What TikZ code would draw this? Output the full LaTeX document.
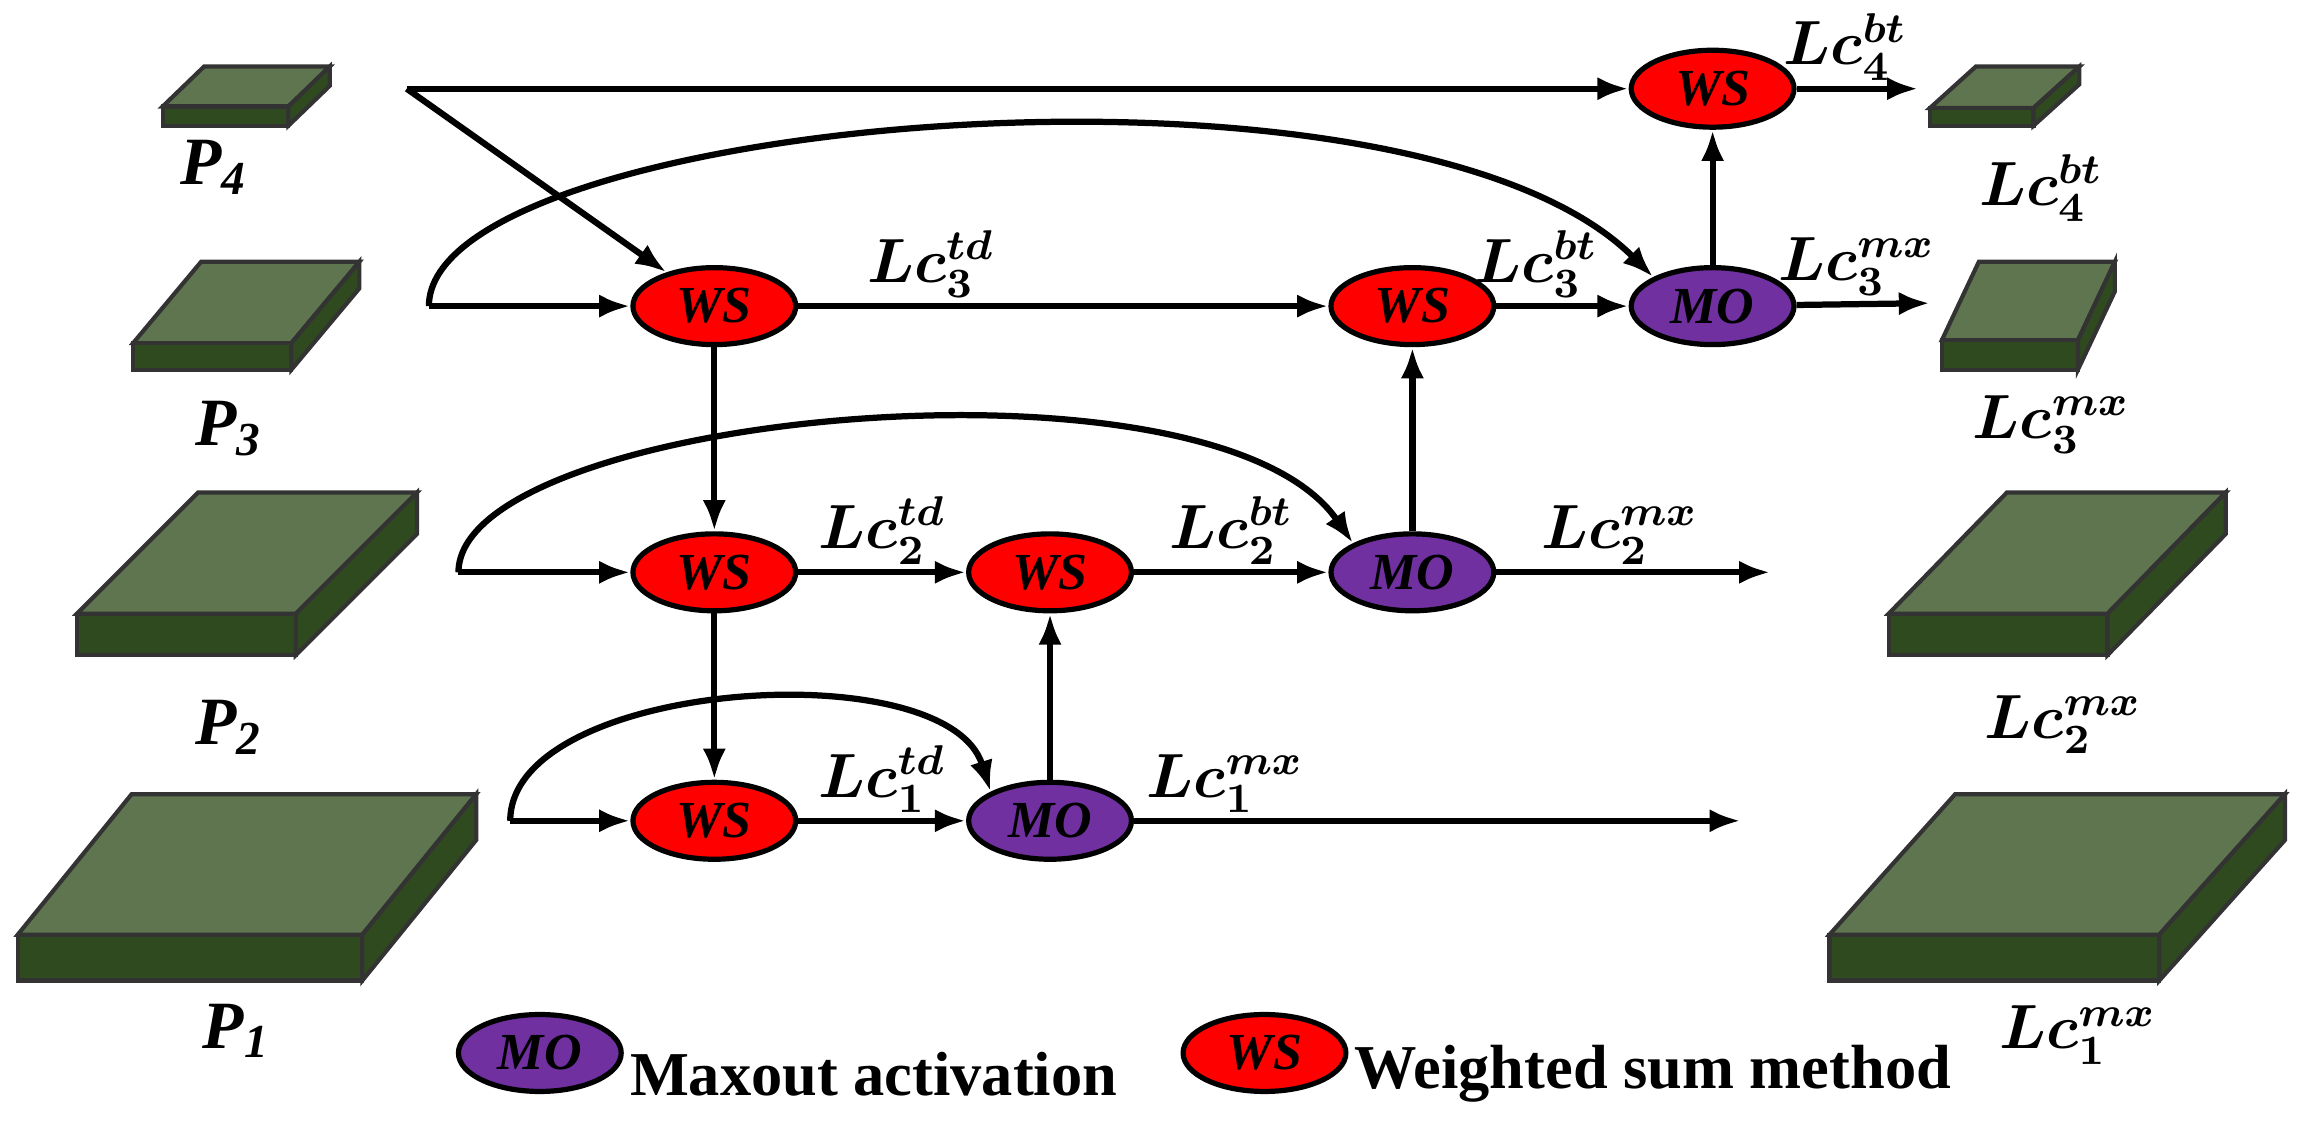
\documentclass[tikz,border=0pt]{standalone}
\usepackage{fontspec}
\setmainfont{Liberation Serif}
\usepackage{bm}
\usetikzlibrary{arrows.meta,shapes.geometric}
\definecolor{slabtop}{HTML}{5E7550}
\definecolor{slabside}{HTML}{2F4A1E}
\definecolor{wsred}{HTML}{FF0000}
\definecolor{mopurple}{HTML}{7030A0}
\newcommand\myslab[6]{%
 \fill[slabtop,draw=black!80,line width=0.8pt] (#1,#3)--(#2,#3)--(#2+#5,#3-#6)--(#1+#5,#3-#6)--cycle;
 \fill[slabside,draw=black!80,line width=0.8pt] (#1,#3) rectangle (#2,#4);
 \fill[slabside,draw=black!80,line width=0.8pt] (#2,#3)--(#2+#5,#3-#6)--(#2+#5,#4-#6)--(#2,#4)--cycle;}
\begin{document}
\begin{tikzpicture}[x=0.01cm,y=-0.01cm,
 ell/.style={ellipse,draw=black,line width=1pt,minimum width=1.1cm,minimum height=0.52cm,inner sep=0pt,font=\fontsize{10}{11}\selectfont\bfseries\itshape},
 ws/.style={ell,fill=wsred},
 mo/.style={ell,fill=mopurple},
 arr/.style={-{Latex[length=6pt,width=4.5pt]},line width=1.2pt},
 lab/.style={font=\fontsize{12}{13}\selectfont,inner sep=1pt},
 plab/.style={font=\fontsize{13}{14}\selectfont\bfseries\itshape}]
\useasboundingbox (0,0) rectangle (1568,765);
% slabs
\myslab{110}{195}{72}{85}{28}{27}
\myslab{90}{197}{232}{250}{46}{55}
\myslab{52}{200}{415}{443}{82}{82}
\myslab{12}{245}{632}{663}{77}{95}
\myslab{1305}{1375}{73}{85}{31}{28}
\myslab{1313}{1405}{230}{250}{25}{53}
\myslab{1277}{1425}{415}{443}{80}{82}
\myslab{1237}{1460}{632}{663}{85}{95}
\node[plab] (p4) at (145,113) {P\textsubscript{4}};
\node[plab] (p3) at (155,290) {P\textsubscript{3}};
\node[plab] (p2) at (155,492) {P\textsubscript{2}};
\node[plab] (p1) at (160,697) {P\textsubscript{1}};
\node[lab] (l4) at (1380,127) {$\bm{Lc_4^{bt}}$};
\node[lab] (l3) at (1387,287) {$\bm{Lc_3^{mx}}$};
\node[lab] (l2) at (1395,490) {$\bm{Lc_2^{mx}}$};
\node[lab] (l1) at (1405,700) {$\bm{Lc_1^{mx}}$};
% nodes
\node[ws] (wt) at (1158,60) {WS};
\node[ws] (w3a) at (483,207) {WS};
\node[ws] (w3b) at (955,207) {WS};
\node[mo] (m3) at (1158,207) {MO};
\node[ws] (w2a) at (483,387) {WS};
\node[ws] (w2b) at (710,387) {WS};
\node[mo] (m2) at (955,387) {MO};
\node[ws] (w1a) at (483,555) {WS};
\node[mo] (m1) at (710,555) {MO};
\coordinate (s4) at (275,60);
\coordinate (s3) at (290,207);
\coordinate (s2) at (310,387);
\coordinate (s1) at (345,555);
\coordinate (e4) at (1297,60);
\coordinate (e3) at (1305,205);
\coordinate (e2) at (1197,387);
\coordinate (e1) at (1177,555);
% arrows
\draw[arr] (s4) -- (wt);
\draw[arr] (s4) -- (w3a);
\draw[arr] (s3) -- (w3a);
\draw[arr] (s3) .. controls (290,80) and (950,20) .. (m3.north west);
\draw[arr] (w3a) -- node[lab,above,pos=0.25]{$\bm{Lc_3^{td}}$} (w3b);
\draw[arr] (w3b) -- node[lab,above,pos=0.3]{$\bm{Lc_3^{bt}}$} (m3);
\draw[arr] (m3) -- node[lab,above,pos=0.45]{$\bm{Lc_3^{mx}}$} (e3);
\draw[arr] (m3) -- (wt);
\draw[arr] (wt) -- node[lab,above,pos=0.4]{$\bm{Lc_4^{bt}}$} (e4);
\draw[arr] (w3a) -- (w2a);
\draw[arr] (w2a) -- (w1a);
\draw[arr] (s2) -- (w2a);
\draw[arr] (s2) .. controls (310,280) and (820,230) .. (m2.north west);
\draw[arr] (w2a) -- node[lab,above]{$\bm{Lc_2^{td}}$} (w2b);
\draw[arr] (w2b) -- node[lab,above]{$\bm{Lc_2^{bt}}$} (m2);
\draw[arr] (m2) -- node[lab,above,pos=0.45]{$\bm{Lc_2^{mx}}$} (e2);
\draw[arr] (m2) -- (w3b);
\draw[arr] (s1) -- (w1a);
\draw[arr] (s1) .. controls (345,460) and (640,440) .. (m1.north west);
\draw[arr] (w1a) -- node[lab,above]{$\bm{Lc_1^{td}}$} (m1);
\draw[arr] (m1) -- node[lab,above,pos=0.15]{$\bm{Lc_1^{mx}}$} (e1);
\draw[arr] (m1) -- (w2b);
% legend
\node[mo] (lm) at (365,712) {MO};
\node[anchor=west,inner sep=1pt,font=\fontsize{12}{13}\selectfont\bfseries] (lmt) at ([yshift=-4pt]lm.east) {Maxout activation};
\node[ws] (lw) at (855,712) {WS};
\node[anchor=west,inner sep=1pt,font=\fontsize{12}{13}\selectfont\bfseries] (lwt) at ([yshift=-4pt]lw.east) {Weighted sum method};
\end{tikzpicture}
\end{document}
